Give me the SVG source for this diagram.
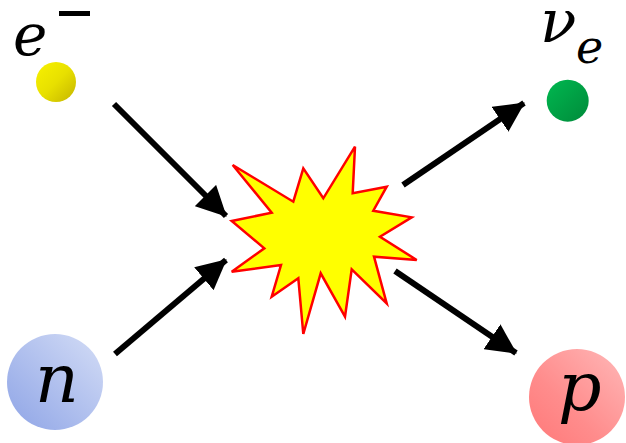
<svg xmlns="http://www.w3.org/2000/svg" width="626" height="443" viewBox="0 0 626 443">
<style>
.lbl{font-family:"DejaVu Serif","Liberation Serif",serif;font-style:italic;fill:#000}
.conn{stroke:#000;stroke-width:6;fill:none}
</style>
<defs>
<linearGradient id="gy" x1="0" y1="0" x2="1" y2="1"><stop offset="0" stop-color="#f8f200"/><stop offset="0.5" stop-color="#e8e000"/><stop offset="1" stop-color="#c4b400"/></linearGradient>
<linearGradient id="gg" x1="0" y1="0" x2="1" y2="1"><stop offset="0" stop-color="#00b850"/><stop offset="1" stop-color="#008a3a"/></linearGradient>
<linearGradient id="gb" x1="1" y1="0" x2="0" y2="1"><stop offset="0" stop-color="#d4ddf6"/><stop offset="1" stop-color="#8ea4e6"/></linearGradient>
<linearGradient id="gr" x1="1" y1="0" x2="0" y2="1"><stop offset="0" stop-color="#ffb8b8"/><stop offset="0.6" stop-color="#ff8c8c"/><stop offset="1" stop-color="#ff7878"/></linearGradient>
<marker id="ah" markerUnits="userSpaceOnUse" markerWidth="30" markerHeight="30" viewBox="0 0 30 30" refX="29" refY="15" orient="auto"><path d="M0,0 L30,15 L0,30 Z" fill="#000"/></marker>
</defs>
<g id="star">
<polygon points="232.7,165 293.3,201.7 303.3,168.3 323.3,198.3 355,146.7 352.7,193.3 386.7,186.7 373.3,210.7 411.7,217.3 380,236.7 416.7,260 374,256.7 386.7,303.3 351.7,269.3 345,316.7 320.7,273.3 303.3,334 298.3,278.3 271.7,296.7 281,265 231.7,271.7 264.3,248.3 231.7,221 271.7,212.7" fill="#ffff00" stroke="#ff0000" stroke-width="2.5" stroke-linejoin="miter"/>
</g>
<g id="connectors">
<line class="conn" x1="114" y1="104" x2="226" y2="216" marker-end="url(#ah)"/>
<line class="conn" x1="115" y1="354" x2="226" y2="260" marker-end="url(#ah)"/>
<line class="conn" x1="403" y1="185" x2="524" y2="103" marker-end="url(#ah)"/>
<line class="conn" x1="395" y1="271" x2="516" y2="353" marker-end="url(#ah)"/>
</g>
<g id="electron">
<circle cx="56" cy="82" r="20" fill="url(#gy)"/>
<text class="lbl" x="13" y="55" font-size="58">e</text>
<rect x="59" y="11" width="31" height="5" fill="#000"/>
</g>
<g id="neutrino">
<circle cx="567.7" cy="100.7" r="21" fill="url(#gg)"/>
<text class="lbl" x="540" y="42" font-size="60">ν</text>
<text class="lbl" x="576" y="63" font-size="46">e</text>
</g>
<g id="neutron">
<circle cx="55" cy="382" r="48" fill="url(#gb)"/>
<text class="lbl" x="35" y="402" font-size="68">n</text>
</g>
<g id="proton">
<circle cx="577" cy="397" r="48" fill="url(#gr)"/>
<text class="lbl" x="558" y="410" font-size="68">p</text>
</g>
</svg>
